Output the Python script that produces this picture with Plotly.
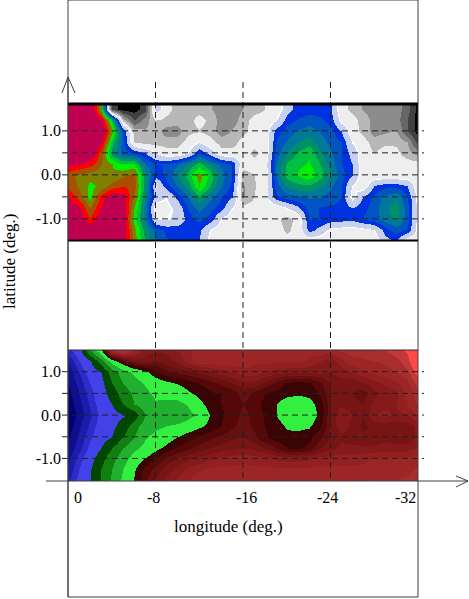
import plotly.graph_objects as go

# longitude and latitude grids (deg.)
lons = [-i for i in range(33)]
lats = [1.5, 1.25, 1.0, 0.75, 0.5, 0.25, 0.0, -0.25, -0.5, -0.75, -1.0, -1.25, -1.5]

# upper map, band index per grid point
upper_z = [
    [18,18,18,13.5,1,0,0,1,7,5,4,4,4,3.6,3,3,3.5,4,4.5,5,7,8,8,8,7.5,5,4.2,3.4,3,3,3,2,0],
    [18,18,18,17,12,4,1.5,3,4.5,4.2,4,4,5,4.2,3,3,4,5,5,6,8,8.6,9,8.7,8,5.5,5,4,3.2,3,3,1.5,0],
    [18,18,18,18,14,8.5,4,3.6,4,3,3,4.2,4.4,4,3,3.6,4.2,5,5,8,9,9.6,10,9.4,8.9,7.5,5,4.2,3,3.3,3.6,1.5,0],
    [18,18,18,17,12,9,4.5,4,4,4,4,5,6,5,4,4,5,5,5,8.5,9.6,10.5,11,10,9.2,8.5,6,5,4,4.3,4.3,3.5,1],
    [18,18,18,15,11,9,8.5,7.5,6,5,5,6,8.4,7,5,5,5,4.2,5,9,10.5,11.7,12.4,10.7,9.6,8.6,7,5,4.5,5,4.8,4,3],
    [17,16.5,16,14.5,13.5,12.5,12.7,9.5,8.5,8.5,9.3,10.5,12,10.5,9.2,8.4,5,5,5.5,9.5,11.7,12.3,12.6,11.5,10,8.6,7.5,5,5,5,5,5,5],
    [14.8,14.3,14,13.8,13.6,14.3,14.8,11,8,8.8,10.3,12,14,12.3,10,8.5,4,4.5,5,9.5,12,12.6,13.2,12,10.5,9,7.5,5,5,5,5,5,5],
    [15.2,14.3,13.2,13.8,15,15.5,15,11,6,8,9.5,11,13.5,11.5,9.6,8.3,3.4,4.4,5,9,10.6,11.2,11.3,10.7,9.6,8.7,6,5,7.6,8.2,8.2,7.5,5],
    [16.5,15,13,16,17.5,17,14.5,10.5,7,6,7.8,9.5,11.3,9.8,8.6,7.5,3.4,4.5,5.5,8.2,9,9.3,9.6,9.5,9,8.5,5.5,7.6,8.8,9.8,10.4,8.6,5.5],
    [18,16.8,14.5,16.5,18,17.3,13.5,10,4.8,5.5,6.5,8.6,9.9,8.8,8,6,5,5,5,5,6,7.2,9,8.4,8.3,8.3,7.5,8.2,9,10.3,11,9,5.5],
    [18,17.5,15.5,17.5,18,17.5,13,10,6,6,6.3,8,8.8,8.2,6,5,5,5,5,4.8,4,5,8.5,8.5,8.2,8,7.8,8.6,9,10,10.8,9,5.5],
    [18,18,18,18,18,17.5,14,11,9,8.3,8.3,8.3,7.8,6,5,5,5,5,5,5,4.3,5,8,7,5.5,5.4,5.2,5.5,6,8,9,8.4,5.5],
    [18,18,18,18,18,17.3,14,11.5,9.5,8.6,8.4,8.3,7.5,5.5,5,5,5,5,5,5,5,5,5,5,5,5,5,5,5,7,7.5,5,5],
]

# lower map, continuous index per grid point
lower_z = [
    [1.8,2.5,5,6.9,10.5,11,10,9,9,9,9.3,9.6,10,10,10,10,10,10,10,10,10,10,10,10,10,10.3,10.5,10.5,10.7,10.7,11,11.3,12],
    [1,2,2.9,4.5,6.5,7.7,8.6,8.8,8.5,8.7,9,9.5,10,10,10,10,10,9.8,9.8,9.8,9.8,9.8,9.6,9.3,9,9.5,10,10.1,10.2,10.3,10.5,11,12],
    [0.7,1.5,2.4,3,4.5,5.5,6.2,6.8,7.5,8,8.2,8.4,8.6,8.8,9.1,9.3,9.5,9.5,9.3,9.1,9,9,9,8.9,8.9,9.1,9.3,9.6,9.8,10,10.2,10.6,11.5],
    [0.5,1.2,2,2.7,4,5,5.6,6.1,6.5,6.8,7.05,7.3,7.6,7.9,8.2,8.5,8.8,8.8,8.4,8,7.5,7.4,7.5,8,8.6,8.7,8.6,8.9,9.1,9.4,9.6,10,11],
    [0.3,1,1.8,2.5,3.5,4.5,5.2,5.8,6.2,6.4,6.5,6.9,7.2,7.5,7.6,7.8,8.3,8,7.6,7.4,7.2,7.1,7.2,7.7,8.5,8.7,8.5,8.3,8.8,9,9.2,9.8,10.5],
    [0.2,0.8,1.6,2.4,3,4,5,5.6,5.9,5.7,5.7,6.1,6.8,7.3,7.6,7.8,8.1,7.9,7.4,7,6.6,6.6,6.7,7.3,8.5,8.8,8.6,8.5,9,9.2,9.3,9.7,10.3],
    [0,0.7,1.4,2.2,2.7,2.9,3.4,5,5.5,5,5.2,5.7,6.2,7.05,7.5,7.9,8.2,8,7.5,7,6.5,6.4,6.5,7.2,8.6,9.3,8.9,8.5,9.3,9.4,9.2,9.3,9.8],
    [0.2,0.9,1.6,2.4,2.8,3.4,4.6,5.5,5.8,6,6.2,6.5,6.85,7.2,7.6,8,8.3,8,7.6,7.3,6.9,6.85,6.9,7.5,8.6,9.1,8.8,8.4,8.6,8.7,8.6,8.7,9],
    [0.4,1.1,1.9,2.6,3,4,5,5.9,6.3,6.6,7,7.4,7.7,8,8.2,8.4,8.5,8.2,7.7,7.3,7.2,7.2,7.4,8,8.6,8.8,8.7,8.6,8.6,8.7,8.6,8.6,9],
    [0.6,1.3,2.2,3,4,5,5.8,6.3,6.8,7.2,7.7,8,8.3,8.5,8.7,8.8,8.9,8.8,8.5,8.1,7.6,7.5,7.8,8.5,8.8,9,9,9,9,9.1,9.1,9.1,9.4],
    [0.9,1.7,2.6,3.6,4.7,5.6,6.4,7,7.6,8.2,8.5,8.8,9,9.2,9.4,9.5,9.6,9.5,9.4,9.2,9.1,9.1,9.2,9.4,9.5,9.5,9.5,9.6,9.7,9.7,9.7,9.7,10],
    [1.1,2,2.9,4,5,6,6.9,7.8,8.3,8.7,9,9.4,9.6,9.8,9.8,9.8,9.8,9.8,9.8,9.8,9.8,9.8,9.8,9.8,9.8,9.8,9.8,9.8,9.9,9.9,10,10,10.3],
    [1.3,2.2,3,4.1,5.2,6.2,7.05,8,8.6,9,9.4,9.7,10,10,10,10,10,10,10,10,10,10,10,10,10,10,10,10,10.2,10.2,10.2,10.3,10.5],
]

upper_colors = ["#000000", "#404040", "#666666", "#8c8c8c", "#b8b8b8", "#eeeeee", "#ffffff", "#c8d0f0",
                "#0033e0", "#0055c0", "#00789c", "#009068", "#00c040", "#00f000", "#808000", "#a85000",
                "#ff0000", "#c00050"]
# index where each band starts: the white band is kept narrow
upper_edges = [-0.5, 0.5, 1.5, 2.5, 3.5, 4.5, 5.9, 6.1, 7.5, 8.5, 9.5, 10.5, 11.5, 12.5, 13.5, 14.5, 15.5, 16.5, 17.5]
lower_edges = [0, 0.5, 1, 1.5, 2, 3, 4, 5, 6, 7, 7.6, 8.1, 8.5, 8.9, 9.3, 9.7, 10.2, 10.7, 11.2, 12]
lower_colors = ["#00006e", "#0e0e90", "#1c1cac", "#2c2cc8", "#4242e8", "#004800", "#108010", "#22b030",
                "#33f040", "#3a0404", "#560808", "#681010", "#771414", "#861a1a", "#922020", "#9c2626",
                "#a82e2e", "#c03838", "#ff4848"]

lat_ticks = [1.0, 0.0, -1.0]
lat_labels = ["1.0", "0.0", "-1.0"]
lon_ticks = [0, -8, -16, -24, -32]
lon_labels = ["0", "-8", "-16", "-24", "-32"]
lon_label_shift = [10, -2, 3, -3, -13]
dash_lons = [-8, -16, -24]
dash_lats = [1.0, 0.5, 0.0, -0.5, -1.0]

W, H = 469, 599


def px(x):
    return x / W


def py(y):
    return 1 - y / H


# stepped colorscale so the smooth grid shows flat bands
def stepped(edges, colors):
    span = edges[-1] - edges[0]
    scale = []
    for i, c in enumerate(colors):
        scale.append([(edges[i] - edges[0]) / span, c])
        scale.append([(edges[i + 1] - edges[0]) / span, c])
    return scale


fig = go.Figure()
fig.add_trace(go.Heatmap(x=lons, y=lats, z=upper_z, zmin=upper_edges[0], zmax=upper_edges[-1],
                         colorscale=stepped(upper_edges, upper_colors),
                         zsmooth="best", showscale=False, xaxis="x", yaxis="y"))
fig.add_trace(go.Heatmap(x=lons, y=lats, z=lower_z, zmin=lower_edges[0], zmax=lower_edges[-1],
                         colorscale=stepped(lower_edges, lower_colors),
                         zsmooth="best", showscale=False, xaxis="x", yaxis="y2"))

shapes = []
dash = dict(color="#202020", width=1, dash="6px,4px")

# dashed guides
for lon in dash_lons:
    shapes.append(dict(type="line", xref="x", yref="paper", x0=lon, x1=lon, y0=py(82), y1=py(481), line=dash))
for yax in ["y", "y2"]:
    for lat in dash_lats:
        shapes.append(dict(type="line", xref="paper", yref=yax, x0=px(62), x1=px(424), y0=lat, y1=lat, line=dash))

# outer frame and panel edges
shapes.append(dict(type="rect", xref="paper", yref="paper", x0=px(68), x1=px(418), y0=py(597), y1=py(0),
                   line=dict(color="#404040", width=1)))
shapes.append(dict(type="line", xref="paper", yref="paper", x0=px(68), x1=px(418), y0=py(104), y1=py(104),
                   line=dict(color="black", width=3)))
shapes.append(dict(type="line", xref="paper", yref="paper", x0=px(68), x1=px(418), y0=py(240.5), y1=py(240.5),
                   line=dict(color="black", width=2)))
shapes.append(dict(type="line", xref="paper", yref="paper", x0=px(68), x1=px(418), y0=py(350), y1=py(350),
                   line=dict(color="#303030", width=1)))

# axis lines with open arrow heads
axis_line = dict(color="#404040", width=1)
shapes.append(dict(type="line", xref="paper", yref="paper", x0=px(46), x1=px(468), y0=py(481), y1=py(481), line=axis_line))
shapes.append(dict(type="line", xref="paper", yref="paper", x0=px(68), x1=px(68), y0=py(597), y1=py(77), line=axis_line))
for x0, y0, x1, y1 in [(456, 476, 468, 481), (456, 487, 468, 481), (62, 93, 68, 77), (75, 93, 68, 77)]:
    shapes.append(dict(type="line", xref="paper", yref="paper", x0=px(x0), x1=px(x1), y0=py(y0), y1=py(y1), line=axis_line))

annotations = []
for lon, label, shift in zip(lon_ticks, lon_labels, lon_label_shift):
    annotations.append(dict(x=lon, y=py(497), xref="x", yref="paper", text=label, showarrow=False, xshift=shift,
                            yanchor="middle", font=dict(size=16)))
annotations.append(dict(x=px(228), y=py(526), xref="paper", yref="paper", text="longitude (deg.)", showarrow=False,
                        yanchor="middle", font=dict(size=17)))
annotations.append(dict(x=px(9), y=py(262), xref="paper", yref="paper", text="latitude (deg.)", showarrow=False,
                        textangle=-90, xanchor="center", yanchor="middle", font=dict(size=17)))

y_axis = dict(tickvals=lat_ticks, ticktext=lat_labels, ticks="", showgrid=False, zeroline=False, showline=False,
              anchor="x", ticklabelstandoff=6, tickfont=dict(size=16))

fig.update_layout(
    width=W, height=H, autosize=False,
    margin=dict(l=0, r=0, t=0, b=0),
    paper_bgcolor="white", plot_bgcolor="white",
    font=dict(family="Liberation Serif", color="black"),
    xaxis=dict(domain=[px(68), px(418)], range=[0, -32], showticklabels=False, ticks="", showgrid=False,
               zeroline=False, showline=False, anchor="free", position=py(481)),
    yaxis=dict(domain=[py(240), py(104)], range=[-1.48, 1.61], **y_axis),
    yaxis2=dict(domain=[py(481), py(350)], range=[-1.52, 1.5], **y_axis),
    shapes=shapes, annotations=annotations,
)

fig.write_html("out.html", config=dict(displayModeBar=False), post_script="document.body.style.margin='0';")
